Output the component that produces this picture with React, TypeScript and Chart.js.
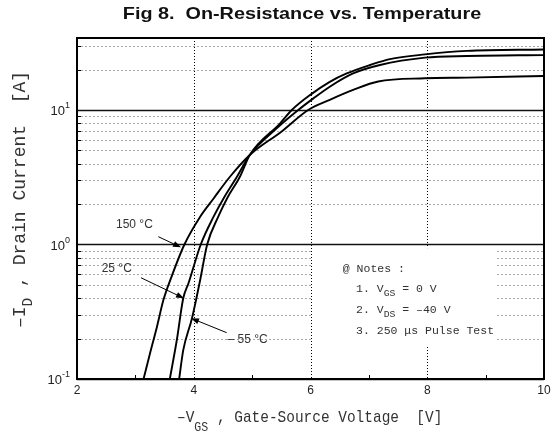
import React, { useEffect, useRef } from "react";
import { Chart, registerables } from "chart.js";

Chart.register(...registerables);

// ---------- data ----------
const chartTitle = "Fig 8.  On-Resistance vs. Temperature";
const xTickValues = [2, 4, 6, 8, 10];
const xMinorTickValues = [3, 5, 7, 9];
const xGridValues = [4, 6, 8];
const yDecadeValues = [0.1, 1, 10];
const yDecadeExponents = ["-1", "0", "1"];
const yMinorValues = [0.2, 0.3, 0.4, 0.5, 0.6, 0.7, 0.8, 0.9, 2, 3, 4, 5, 6, 7, 8, 9, 20, 30];
const xMin = 2;
const xMax = 10;
const yMin = 0.1;
const yMax = 34.3;

const seriesNames = ["150 °C", "25 °C", "– 55 °C"];

const vgs150 = [3.14, 3.25, 3.37, 3.48, 3.62, 3.84, 4.11, 4.34, 4.62, 4.96, 5.5, 5.96, 6.33, 6.73, 7.16, 7.96, 8.68, 10.0];
const id150 = [0.1, 0.155, 0.245, 0.386, 0.577, 1.0, 1.61, 2.2, 3.19, 4.63, 6.9, 10, 11.9, 14.1, 16.3, 17.2, 17.4, 17.9];

const vgs25 = [3.59, 3.71, 3.82, 3.91, 4.12, 4.34, 4.51, 4.74, 4.96, 5.45, 5.79, 6.05, 6.33, 6.73, 7.19, 7.96, 8.68, 10.0];
const id25 = [0.1, 0.195, 0.398, 0.515, 1.0, 1.61, 2.2, 3.19, 4.63, 7.5, 10, 12.2, 14.9, 18.7, 21.6, 24.5, 25.2, 25.6];

const vgsM55 = [3.75, 3.82, 3.97, 4.11, 4.23, 4.42, 4.57, 4.79, 4.96, 5.48, 5.68, 5.99, 6.33, 6.62, 7.02, 7.36, 7.96, 8.68, 10.0];
const idM55 = [0.1, 0.164, 0.283, 0.545, 1.0, 1.61, 2.2, 3.19, 4.63, 7.96, 10, 12.9, 16.2, 18.7, 21.6, 23.9, 25.9, 27.5, 28.2];

// annotation anchors (data coordinates: V, A)
const labelAnchorsV = [2.668, 2.423, 4.58];
const labelAnchorsI = [1.40, 0.658, 0.195];
const arrowFromV = [3.393, 3.096, 4.564];
const arrowFromI = [1.143, 0.566, 0.221];
const arrowToV = [3.782, 3.833, 3.953];
const arrowToI = [0.953, 0.398, 0.283];

const notesLeftV = 6.553;
const notesIndentV = 6.78;
const notesLineI = [0.655, 0.467, 0.326, 0.227];
const notesBoxV = [6.03, 9.16];
const notesBoxI = [0.94, 0.179];

type Part = { t: string; sub?: boolean; sup?: boolean };

const notesLines: Part[][] = [
  [{ t: "@ Notes :" }],
  [{ t: "1. V" }, { t: "GS", sub: true }, { t: " = 0 V" }],
  [{ t: "2. V" }, { t: "DS", sub: true }, { t: " = –40 V" }],
  [{ t: "3. 250 μs Pulse Test" }],
];

const xTitle: Part[] = [{ t: "–V" }, { t: "GS", sub: true }, { t: " , Gate-Source Voltage  [V]" }];
const yTitle: Part[] = [{ t: "–I" }, { t: "D", sub: true }, { t: " , Drain Current  [A]" }];

const MONO = '"Liberation Mono", "Courier New", monospace';
const SANS = '"Liberation Sans", Arial, sans-serif';

function drawRich(
  ctx: CanvasRenderingContext2D,
  parts: Part[],
  size: number,
  family: string,
  subScale: number,
  subDy: number,
  supDy: number
) {
  let cx = 0;
  ctx.textBaseline = "middle";
  ctx.textAlign = "left";
  for (const p of parts) {
    const s = p.sub || p.sup ? size * subScale : size;
    ctx.font = `${s}px ${family}`;
    const dy = p.sub ? subDy : p.sup ? supDy : 0;
    ctx.fillText(p.t, cx, dy);
    cx += ctx.measureText(p.t).width;
  }
}

function arrow(ctx: CanvasRenderingContext2D, x1: number, y1: number, x2: number, y2: number) {
  const ang = Math.atan2(y2 - y1, x2 - x1);
  const L = 8;
  const W = 3;
  ctx.beginPath();
  ctx.moveTo(x1, y1);
  ctx.lineTo(x2 - L * 0.8 * Math.cos(ang), y2 - L * 0.8 * Math.sin(ang));
  ctx.stroke();
  ctx.beginPath();
  ctx.moveTo(x2, y2);
  ctx.lineTo(x2 - L * Math.cos(ang) + W * Math.sin(ang), y2 - L * Math.sin(ang) - W * Math.cos(ang));
  ctx.lineTo(x2 - L * Math.cos(ang) - W * Math.sin(ang), y2 - L * Math.sin(ang) + W * Math.cos(ang));
  ctx.closePath();
  ctx.fill();
}

const decorPlugin = {
  id: "decor",
  beforeDatasetsDraw(chart: any) {
    const { ctx, chartArea: a, scales } = chart;
    const x = scales.x;
    const y = scales.y;
    ctx.save();
    ctx.lineWidth = 1;
    ctx.strokeStyle = "#a8a8a8";
    ctx.setLineDash([2, 2]);
    for (const v of yMinorValues) {
      const py = Math.round(y.getPixelForValue(v)) + 0.5;
      ctx.beginPath();
      ctx.moveTo(a.left, py);
      ctx.lineTo(a.right, py);
      ctx.stroke();
    }
    ctx.strokeStyle = "#000";
    ctx.setLineDash([1, 2]);
    for (const v of xGridValues) {
      const px = Math.round(x.getPixelForValue(v)) + 0.5;
      ctx.beginPath();
      ctx.moveTo(px, a.top);
      ctx.lineTo(px, a.bottom);
      ctx.stroke();
    }
    ctx.setLineDash([]);
    ctx.strokeStyle = "#111";
    ctx.lineWidth = 1.3;
    for (const v of yDecadeValues) {
      const py = Math.round(y.getPixelForValue(v)) + 0.5;
      ctx.beginPath();
      ctx.moveTo(a.left, py);
      ctx.lineTo(a.right, py);
      ctx.stroke();
    }
    ctx.lineWidth = 1;
    ctx.strokeStyle = "#000";
    for (const v of yMinorValues) {
      const py = Math.round(y.getPixelForValue(v)) + 0.5;
      ctx.beginPath();
      ctx.moveTo(a.left, py);
      ctx.lineTo(a.left + 4, py);
      ctx.stroke();
    }
    for (const v of xMinorTickValues) {
      const px = Math.round(x.getPixelForValue(v)) + 0.5;
      ctx.beginPath();
      ctx.moveTo(px, a.bottom);
      ctx.lineTo(px, a.bottom - 4);
      ctx.stroke();
    }
    const bx1 = x.getPixelForValue(notesBoxV[0]);
    const bx2 = x.getPixelForValue(notesBoxV[1]);
    const by1 = y.getPixelForValue(notesBoxI[0]);
    const by2 = y.getPixelForValue(notesBoxI[1]);
    ctx.fillStyle = "#fff";
    ctx.fillRect(bx1, by1, bx2 - bx1, by2 - by1);
    ctx.restore();
  },
  afterDatasetsDraw(chart: any) {
    const { ctx, chartArea: a, scales } = chart;
    const x = scales.x;
    const y = scales.y;
    ctx.save();
    ctx.strokeStyle = "#000";
    ctx.lineWidth = 2;
    ctx.strokeRect(a.left, a.top, a.right - a.left, a.bottom - a.top);

    ctx.fillStyle = "#222";
    ctx.font = `12px ${SANS}`;
    ctx.textAlign = "center";
    ctx.textBaseline = "middle";
    for (const v of xTickValues) {
      ctx.fillText(String(v), x.getPixelForValue(v), a.bottom + 12);
    }
    yDecadeValues.forEach((v, i) => {
      const py = y.getPixelForValue(v);
      ctx.font = `9px ${SANS}`;
      const ew = ctx.measureText(yDecadeExponents[i]).width;
      ctx.font = `13px ${SANS}`;
      const mw = ctx.measureText("10").width;
      const right = a.left - 7;
      ctx.textAlign = "left";
      ctx.textBaseline = "middle";
      ctx.fillText("10", right - ew - mw, py + 1.5);
      ctx.font = `9px ${SANS}`;
      ctx.fillText(yDecadeExponents[i], right - ew, py - 4);
    });

    // title (horizontally stretched bold sans)
    ctx.fillStyle = "#111";
    ctx.save();
    ctx.translate(302, 18.5);
    ctx.scale(1.2, 1);
    ctx.font = `bold 16.5px ${SANS}`;
    ctx.textAlign = "center";
    ctx.textBaseline = "alphabetic";
    ctx.fillText(chartTitle, 0, 0);
    ctx.restore();

    // x title
    ctx.fillStyle = "#333";
    ctx.save();
    ctx.translate(177, 417);
    ctx.scale(0.85, 1);
    drawRich(ctx, xTitle, 17, MONO, 0.8, 10, -5);
    ctx.restore();

    // y title
    ctx.save();
    ctx.translate(20, 328);
    ctx.rotate(-Math.PI / 2);
    drawRich(ctx, yTitle, 18, MONO, 0.8, 8, -5);
    ctx.restore();

    ctx.strokeStyle = "#000";
    ctx.lineWidth = 1;
    seriesNames.forEach((name, i) => {
      ctx.font = `12px ${SANS}`;
      ctx.textAlign = "left";
      ctx.textBaseline = "middle";
      ctx.fillStyle = "#333";
      ctx.fillText(name, x.getPixelForValue(labelAnchorsV[i]), y.getPixelForValue(labelAnchorsI[i]));
      ctx.fillStyle = "#000";
      arrow(
        ctx,
        x.getPixelForValue(arrowFromV[i]),
        y.getPixelForValue(arrowFromI[i]),
        x.getPixelForValue(arrowToV[i]),
        y.getPixelForValue(arrowToI[i])
      );
    });

    ctx.fillStyle = "#333";
    notesLines.forEach((parts, i) => {
      ctx.save();
      const lx = x.getPixelForValue(i === 0 ? notesLeftV : notesIndentV);
      ctx.translate(lx, y.getPixelForValue(notesLineI[i]));
      drawRich(ctx, parts, 11.5, MONO, 0.85, 4, -4);
      ctx.restore();
    });
    ctx.restore();
  },
};

function makeData(vs: number[], is: number[]) {
  return vs.map((v, i) => ({ x: v, y: is[i] }));
}

export default function App() {
  const ref = useRef<HTMLCanvasElement | null>(null);
  useEffect(() => {
    if (!ref.current) return;
    const common = {
      borderColor: "#000",
      borderWidth: 1.9,
      pointRadius: 0,
      fill: false,
      cubicInterpolationMode: "monotone" as const,
    };
    const chart = new Chart(ref.current, {
      type: "line",
      data: {
        datasets: [
          { label: seriesNames[0], data: makeData(vgs150, id150), ...common },
          { label: seriesNames[1], data: makeData(vgs25, id25), ...common },
          { label: seriesNames[2], data: makeData(vgsM55, idM55), ...common },
        ],
      },
      options: {
        animation: false,
        responsive: false,
        devicePixelRatio: 1,
        layout: { padding: { left: 77, right: 11, top: 38, bottom: 57 } },
        plugins: { legend: { display: false }, tooltip: { enabled: false }, title: { display: false } },
        scales: {
          x: { type: "linear", min: xMin, max: xMax, display: false },
          y: { type: "logarithmic", min: yMin, max: yMax, display: false },
        },
      },
      plugins: [decorPlugin],
    });
    return () => chart.destroy();
  }, []);
  return (
    <div style={{ position: "fixed", left: 0, top: 0, width: 555, height: 436, background: "#fff" }}>
      <canvas ref={ref} width={555} height={436} style={{ display: "block", width: 555, height: 436 }} />
    </div>
  );
}
